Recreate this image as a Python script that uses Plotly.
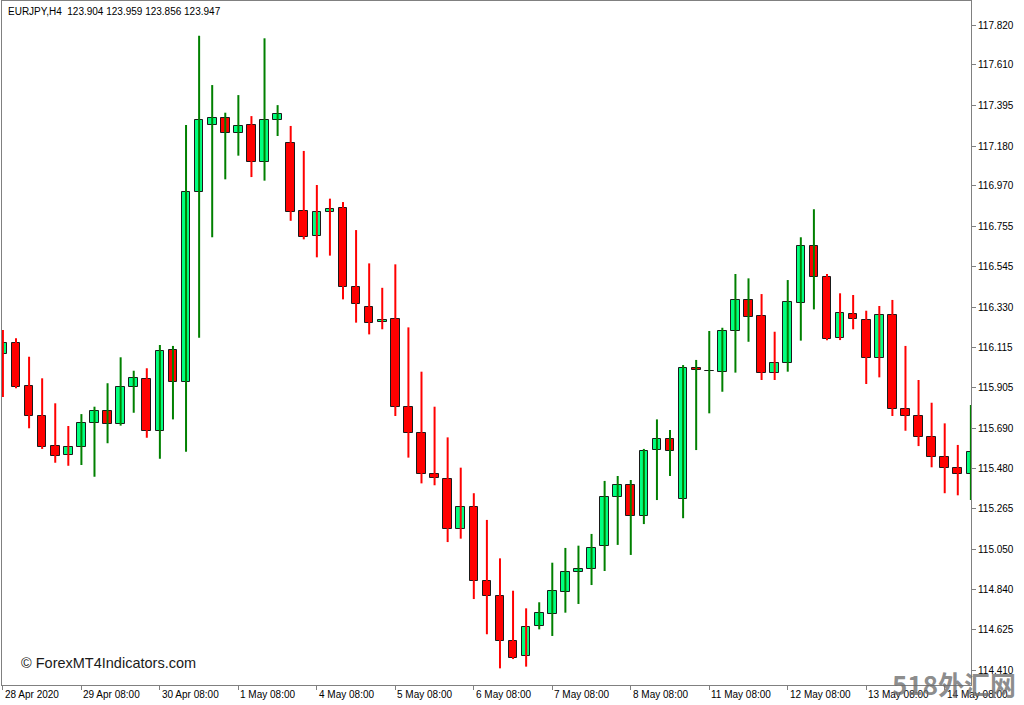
import plotly.graph_objects as go

# ---------------- data ----------------
symbol_header = "EURJPY,H4\u00a0\u00a0123.904 123.959 123.856 123.947"

open_ = [116.082, 116.139, 115.913, 115.756, 115.598, 115.549, 115.590, 115.716, 115.783, 115.711,
         115.910, 115.950, 115.677, 116.103, 115.933, 116.940, 117.290, 117.327, 117.251, 117.290,
         117.095, 117.317, 117.195, 116.836, 116.706, 116.832, 116.853, 116.438, 116.329, 116.250,
         116.266, 115.804, 115.663, 115.447, 115.424, 115.156, 115.276, 114.883, 114.806, 114.568,
         114.487, 114.646, 114.707, 114.827, 114.931, 114.945, 115.070, 115.325, 115.389, 115.225,
         115.574, 115.632, 115.315, 116.007, 115.990, 115.989, 116.205, 116.368, 116.283, 115.980,
         116.033, 116.353, 116.654, 116.491, 116.168, 116.294, 116.262, 116.060, 116.288, 115.790,
         115.755, 115.646, 115.540, 115.479, 115.447]
close_ = [116.140, 115.910, 115.755, 115.593, 115.545, 115.590, 115.716, 115.783, 115.713, 115.906,
          115.954, 115.677, 116.098, 115.933, 116.940, 117.318, 117.327, 117.251, 117.288, 117.095,
          117.318, 117.348, 116.831, 116.702, 116.831, 116.850, 116.438, 116.345, 116.244, 116.263,
          115.804, 115.667, 115.447, 115.429, 115.156, 115.276, 114.883, 114.804, 114.565, 114.477,
          114.640, 114.713, 114.829, 114.931, 114.945, 115.058, 115.325, 115.389, 115.225, 115.570,
          115.632, 115.572, 116.007, 115.998, 115.990, 116.205, 116.368, 116.276, 115.980, 116.033,
          116.357, 116.654, 116.487, 116.160, 116.297, 116.266, 116.060, 116.288, 115.790, 115.755,
          115.646, 115.540, 115.479, 115.447, 115.566]
high_ = [116.209, 116.165, 116.068, 115.954, 115.822, 115.702, 115.765, 115.804, 115.928, 116.065,
         115.994, 116.007, 116.130, 116.125, 117.292, 117.763, 117.503, 117.357, 117.450, 117.339,
         117.750, 117.397, 117.287, 117.155, 116.975, 116.903, 116.885, 116.737, 116.561, 116.432,
         116.556, 116.223, 115.989, 115.804, 115.642, 115.482, 115.347, 115.206, 115.003, 114.832,
         114.739, 114.771, 114.980, 115.058, 115.070, 115.132, 115.412, 115.438, 115.417, 115.581,
         115.737, 115.681, 116.024, 116.051, 116.204, 116.221, 116.505, 116.482, 116.399, 116.200,
         116.473, 116.699, 116.847, 116.505, 116.403, 116.394, 116.311, 116.336, 116.368, 116.125,
         115.945, 115.825, 115.716, 115.602, 115.813]
low_ = [115.855, 115.901, 115.690, 115.581, 115.508, 115.492, 115.496, 115.434, 115.611, 115.704,
        115.772, 115.640, 115.529, 115.737, 115.566, 116.168, 116.699, 117.005, 117.130, 117.017,
        116.998, 117.234, 116.786, 116.688, 116.593, 116.602, 116.371, 116.248, 116.186, 116.213,
        115.755, 115.535, 115.399, 115.389, 115.089, 115.107, 114.788, 114.602, 114.422, 114.471,
        114.431, 114.628, 114.593, 114.716, 114.762, 114.862, 114.936, 115.074, 115.021, 115.184,
        115.311, 115.438, 115.215, 115.575, 115.769, 115.883, 115.984, 116.147, 115.945, 115.945,
        115.989, 116.153, 116.318, 116.155, 116.156, 116.213, 115.924, 115.959, 115.755, 115.677,
        115.596, 115.484, 115.347, 115.336, 115.311]
# trend signal that colours the wicks (+1 up, -1 down)
trend = [-1] * 6 + [1] * 5 + [-1] + [1] * 7 + [-1] + [1] * 2 + [-1] * 19 + [1] * 17 + \
        [-1] * 2 + [1] * 3 + [-1] * 11 + [1]

time_label_bars = [0, 6, 12, 18, 24, 30, 36, 42, 48, 54, 60, 66, 72]
time_labels = ["28 Apr 2020", "29 Apr 08:00", "30 Apr 08:00", "1 May 08:00", "4 May 08:00",
               "5 May 08:00", "6 May 08:00", "7 May 08:00", "8 May 08:00", "11 May 08:00",
               "12 May 08:00", "13 May 08:00", "14 May 08:00"]
price_labels = ["117.820", "117.610", "117.395", "117.180", "116.970", "116.755", "116.545",
                "116.330", "116.115", "115.905", "115.690", "115.480", "115.265", "115.050",
                "114.840", "114.625", "114.410"]

# ---------------- figure ----------------
n = len(open_)
idx = list(range(n))

fig = go.Figure()

# wicks
for sign, col in [(1, "#008000"), (-1, "#ff0000")]:
    xs, ys = [], []
    for i in idx:
        if trend[i] == sign:
            xs += [i, i, None]
            ys += [low_[i], high_[i], None]
    fig.add_trace(go.Scatter(x=xs, y=ys, mode="lines", line=dict(color=col, width=2),
                             hoverinfo="skip", showlegend=False))

# bodies
base = [min(o, c) for o, c in zip(open_, close_)]
height = [max(abs(c - o), 0.0015) for o, c in zip(open_, close_)]
colors = ["#00ff7f" if c >= o else "#ff0000" for o, c in zip(open_, close_)]
fig.add_trace(go.Bar(x=idx, y=height, base=base, width=0.66,
                     marker=dict(color=colors, line=dict(color="#1a1a1a", width=1)),
                     hoverinfo="skip", showlegend=False))

axis_col = "#808080"
fig.update_layout(
    width=1024, height=705,
    margin=dict(l=2, r=53, t=1, b=20),
    paper_bgcolor="white", plot_bgcolor="white",
    barmode="overlay", bargap=0,
    showlegend=False,
    font=dict(family="Liberation Sans, Arial", size=10, color="black"),
    xaxis=dict(range=[-0.07, 74.01], showgrid=False, zeroline=False,
               tickvals=time_label_bars, ticktext=[""] * len(time_label_bars),
               ticks="outside", ticklen=4, tickcolor=axis_col,
               showline=True, linecolor=axis_col, linewidth=1, mirror=True),
    yaxis=dict(range=[114.334, 117.947], side="right", showgrid=False, zeroline=False,
               tickmode="array",
               tickvals=[float(s) for s in price_labels], ticktext=price_labels,
               ticks="outside", ticklen=4, tickcolor=axis_col,
               tickfont=dict(family="Liberation Sans, Arial", size=10, color="black"),
               showline=True, linecolor=axis_col, linewidth=1, mirror=True),
)

ann = []
for b, t in zip(time_label_bars, time_labels):
    ann.append(dict(x=b, xref="x", y=0, yref="paper", yanchor="top", xanchor="left",
                    xshift=0, yshift=-2, text=t, showarrow=False,
                    font=dict(family="Liberation Sans, Arial", size=10, color="black")))
ann.append(dict(x=0, xref="paper", y=1, yref="paper", xanchor="left", yanchor="top",
                xshift=4, yshift=-3, text=symbol_header, showarrow=False,
                font=dict(family="Liberation Sans, Arial", size=10, color="black")))
ann.append(dict(x=0, xref="paper", y=0, yref="paper", xanchor="left", yanchor="middle",
                xshift=17, yshift=22, text="© ForexMT4Indicators.com", showarrow=False,
                font=dict(family="Liberation Sans, Arial", size=14.5, color="#1a1a1a")))
ann.append(dict(x=1, xref="paper", y=0, yref="paper", xanchor="center", yanchor="middle",
                xshift=-17, yshift=2, text="<b>518外汇网</b>", showarrow=False,
                font=dict(family="Noto Sans CJK SC", size=26, color="rgba(110,110,110,0.8)")))
fig.update_layout(annotations=ann)

fig.write_html("out.html", config={"displayModeBar": False},
               post_script="document.body.style.margin='0';")
